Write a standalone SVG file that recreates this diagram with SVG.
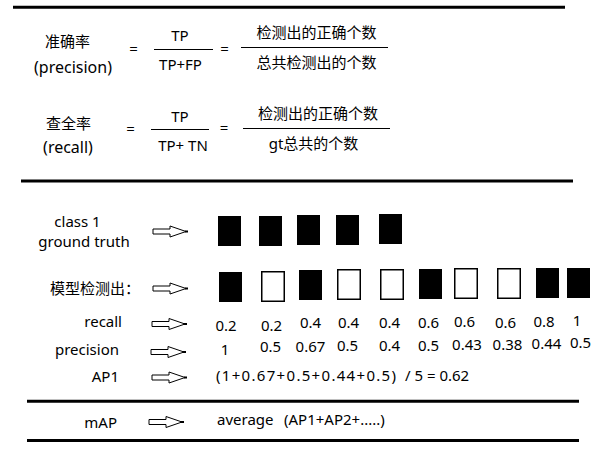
<svg xmlns="http://www.w3.org/2000/svg" width="610" height="454" viewBox="0 0 610 454">
<style>
text{font-family:"Noto Sans","Noto Sans CJK SC",sans-serif;font-size:15px;fill:#000}
.m{text-anchor:middle}
.e{text-anchor:end}
.b16{font-size:16px}
.thick{stroke:#000;stroke-width:3;fill:none}
.frac{stroke:#000;stroke-width:1;fill:none}
.full{fill:#000}
.hol{fill:#fff;stroke:#000;stroke-width:1.5}
</style>
<defs>
<g id="blockArrow">
<path d="M0,-2.5 H17 V-5.5 L33,0 L17,5.5 V2.5 H0 Z" fill="#fff" stroke="#000" stroke-width="1"/>
<rect x="32" y="-1" width="3" height="2" fill="#000"/>
</g>
</defs>
<rect width="610" height="454" fill="#fff"/>

<g id="separators">
<line class="thick" x1="13" y1="7.3" x2="565" y2="7.3"/>
<line class="thick" x1="21" y1="181" x2="573" y2="181"/>
<line class="thick" x1="27" y1="401.3" x2="579" y2="401.3"/>
<line class="thick" x1="27" y1="440.5" x2="579" y2="440.5"/>
</g>

<g id="precision-formula">
<text class="m" x="67.5" y="47">准确率</text>
<text class="m b16" x="73" y="73">(precision)</text>
<text class="m" x="133.5" y="54">=</text>
<text class="m" x="180" y="41">TP</text>
<line class="frac" x1="154" y1="49.5" x2="213" y2="49.5"/>
<text class="m" x="180.5" y="70">TP+FP</text>
<text class="m" x="224.5" y="54">=</text>
<text class="m" x="316.5" y="38">检测出的正确个数</text>
<line class="frac" x1="241" y1="47.5" x2="388" y2="47.5"/>
<text class="m" x="316.5" y="68">总共检测出的个数</text>
</g>

<g id="recall-formula">
<text class="m" x="68.5" y="129">查全率</text>
<text class="m b16" x="68" y="153">(recall)</text>
<text class="m" x="130.5" y="134">=</text>
<text class="m" x="180" y="122">TP</text>
<line class="frac" x1="151" y1="129.5" x2="209" y2="129.5"/>
<text class="m" x="183" y="151">TP+ TN</text>
<text class="m" x="224" y="133">=</text>
<text class="m" x="318" y="119">检测出的正确个数</text>
<line class="frac" x1="243" y1="128.5" x2="390" y2="128.5"/>
<text class="m" x="313.5" y="149">gt总共的个数</text>
</g>

<g id="ground-truth">
<text class="m" x="77.5" y="227">class 1</text>
<text class="m" x="84" y="247">ground truth</text>
<rect class="full" x="218" y="216" width="23" height="30"/>
<rect class="full" x="259" y="216" width="23" height="30"/>
<rect class="full" x="297" y="215" width="23" height="30"/>
<rect class="full" x="336" y="215" width="23" height="30"/>
<rect class="full" x="379" y="214" width="23" height="30"/>
</g>

<g id="detections">
<text x="50" y="294">模型检测出：</text>
<rect class="full" x="219" y="272" width="23" height="30"/>
<rect class="hol" x="261.75" y="271.75" width="22.5" height="29.5"/>
<rect class="full" x="299" y="270" width="23" height="30"/>
<rect class="hol" x="337.75" y="269.75" width="22.5" height="29.5"/>
<rect class="hol" x="380.75" y="269.75" width="22.5" height="29.5"/>
<rect class="full" x="419" y="269" width="23" height="30"/>
<rect class="hol" x="454.75" y="268.75" width="22.5" height="29.5"/>
<rect class="hol" x="497.75" y="268.75" width="22.5" height="29.5"/>
<rect class="full" x="536" y="268" width="23" height="30"/>
<rect class="full" x="567" y="268" width="23" height="30"/>
</g>

<g id="recall-row">
<text class="e" x="122" y="327">recall</text>
<text class="m" x="226" y="331">0.2</text>
<text class="m" x="271.5" y="331">0.2</text>
<text class="m" x="310.5" y="328">0.4</text>
<text class="m" x="348.5" y="328">0.4</text>
<text class="m" x="389.5" y="328">0.4</text>
<text class="m" x="428.5" y="328">0.6</text>
<text class="m" x="464.5" y="327">0.6</text>
<text class="m" x="505.5" y="328">0.6</text>
<text class="m" x="544" y="326.5">0.8</text>
<text class="m" x="577" y="326">1</text>
</g>

<g id="precision-row">
<text class="e" x="119" y="354.5">precision</text>
<text class="m" x="225" y="355">1</text>
<text class="m" x="270.5" y="352">0.5</text>
<text class="m" x="310.5" y="351.5">0.67</text>
<text class="m" x="347.5" y="351">0.5</text>
<text class="m" x="389.5" y="351">0.4</text>
<text class="m" x="428.5" y="350.5">0.5</text>
<text class="m" x="467" y="349.5">0.43</text>
<text class="m" x="507.5" y="349.5">0.38</text>
<text class="m" x="546.5" y="348.5">0.44</text>
<text class="m" x="580.5" y="347.5">0.5</text>
</g>

<g id="ap1-row">
<text class="e" x="119" y="382">AP1</text>
<text x="216" y="381" textLength="180" lengthAdjust="spacing">(1+0.67+0.5+0.44+0.5)</text>
<text x="405" y="381">/ 5 = 0.62</text>
</g>

<g id="map-row">
<text class="e" x="117" y="428">mAP</text>
<text x="217" y="425">average</text>
<text x="284" y="425">(AP1+AP2+.....)</text>
</g>

<g id="connectors">
<use href="#blockArrow" x="153" y="231.5"/>
<use href="#blockArrow" x="153" y="288.5"/>
<use href="#blockArrow" x="152" y="324"/>
<use href="#blockArrow" x="151" y="352"/>
<use href="#blockArrow" x="152" y="377.5"/>
<use href="#blockArrow" x="149" y="422"/>
</g>
</svg>
